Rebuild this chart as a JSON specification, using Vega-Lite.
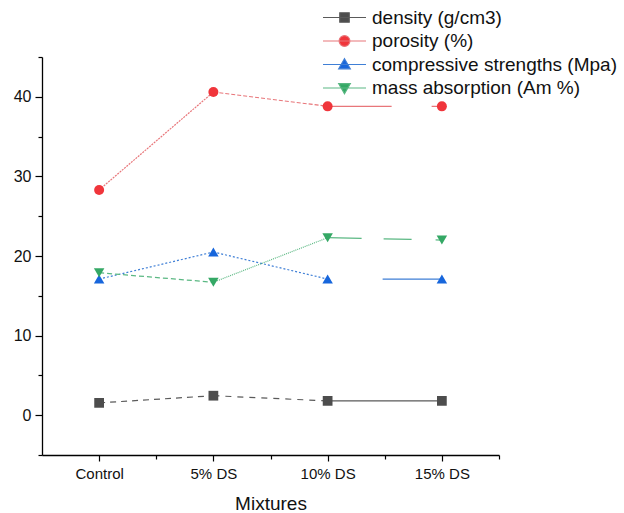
{
  "$schema": "https://vega.github.io/schema/vega-lite/v6.json",
  "width": 457,
  "height": 398,
  "autosize": {"type": "none"},
  "padding": {"left": 42, "top": 57, "right": 125, "bottom": 58},
  "background": "white",
  "config": {
    "view": {"stroke": null},
    "font": "Liberation Sans"
  },
  "data": {
    "values": [
      {"series": "density (g/cm3)", "mixture": "Control", "i": 0, "v": 1.55},
      {"series": "density (g/cm3)", "mixture": "5% DS", "i": 1, "v": 2.45},
      {"series": "density (g/cm3)", "mixture": "10% DS", "i": 2, "v": 1.8},
      {"series": "density (g/cm3)", "mixture": "15% DS", "i": 3, "v": 1.8},
      {"series": "porosity (%)", "mixture": "Control", "i": 0, "v": 28.3},
      {"series": "porosity (%)", "mixture": "5% DS", "i": 1, "v": 40.6},
      {"series": "porosity (%)", "mixture": "10% DS", "i": 2, "v": 38.8},
      {"series": "porosity (%)", "mixture": "15% DS", "i": 3, "v": 38.8},
      {"series": "compressive strengths  (Mpa)", "mixture": "Control", "i": 0, "v": 17.1},
      {"series": "compressive strengths  (Mpa)", "mixture": "5% DS", "i": 1, "v": 20.5},
      {"series": "compressive strengths  (Mpa)", "mixture": "10% DS", "i": 2, "v": 17.1},
      {"series": "compressive strengths  (Mpa)", "mixture": "15% DS", "i": 3, "v": 17.1},
      {"series": "mass absorption (Am %)", "mixture": "Control", "i": 0, "v": 17.9},
      {"series": "mass absorption (Am %)", "mixture": "5% DS", "i": 1, "v": 16.7},
      {"series": "mass absorption (Am %)", "mixture": "10% DS", "i": 2, "v": 22.3},
      {"series": "mass absorption (Am %)", "mixture": "15% DS", "i": 3, "v": 22.0}
    ]
  },
  "resolve": {"axis": {"x": "independent", "y": "independent"}},
  "layer": [
    {
      "transform": [
        {"window": [{"op": "lead", "field": "v", "as": "v2"}, {"op": "lead", "field": "i", "as": "i2"}], "groupby": ["series"], "sort": [{"field": "i"}]},
        {"filter": "datum.i2 != null"},
        {"calculate": "datum.series + '|' + datum.i", "as": "seg"}
      ],
      "mark": {"type": "rule", "strokeWidth": 1.2},
      "encoding": {
        "x": {
          "field": "i", "type": "quantitative",
          "scale": {"domain": [-0.5, 3.5], "nice": false, "zero": false},
          "axis": {
            "orient": "bottom",
            "values": [0, 1, 2, 3],
            "labelExpr": "['Control', '5% DS', '10% DS', '15% DS'][datum.value]",
            "tickSize": 6,
            "grid": false,
            "domainColor": "#000000",
            "domainWidth": 1.3,
            "tickColor": "#000000",
            "tickWidth": 1.2,
            "labelFontSize": 15,
            "labelColor": "#111111",
            "labelPadding": 5,
            "labelFlush": false,
            "labelOverlap": false,
            "title": "Mixtures",
            "titleFontSize": 19,
            "titleFontWeight": "normal",
            "titleColor": "#111111",
            "titlePadding": 13
          }
        },
        "x2": {"field": "i2"},
        "y": {
          "field": "v", "type": "quantitative",
          "scale": {"domain": [-5, 45], "nice": false, "zero": false},
          "axis": {
            "orient": "left",
            "values": [0, 10, 20, 30, 40],
            "tickSize": 7,
            "grid": false,
            "domainColor": "#000000",
            "domainWidth": 1.3,
            "tickColor": "#000000",
            "tickWidth": 1.2,
            "labelFontSize": 16,
            "labelColor": "#111111",
            "labelPadding": 4,
            "labelOverlap": false,
            "title": null
          }
        },
        "y2": {"field": "v2"},
        "stroke": {
          "field": "series", "type": "nominal",
          "scale": {
            "domain": ["density (g/cm3)", "porosity (%)", "compressive strengths  (Mpa)", "mass absorption (Am %)"],
            "range": ["#5a5a5a", "#e8767a", "#3f7fd6", "#5bb883"]
          },
          "legend": {"title": null}
        },
        "strokeDash": {
          "field": "seg", "type": "nominal",
          "scale": {
            "domain": [
              "density (g/cm3)|0", "density (g/cm3)|1", "density (g/cm3)|2",
              "porosity (%)|0", "porosity (%)|1", "porosity (%)|2",
              "compressive strengths  (Mpa)|0", "compressive strengths  (Mpa)|1", "compressive strengths  (Mpa)|2",
              "mass absorption (Am %)|0", "mass absorption (Am %)|1", "mass absorption (Am %)|2"
            ],
            "range": [
              [6, 5], [6, 6], [1, 0],
              [2, 1], [4, 2], [64, 40],
              [2, 2], [2, 2], [0, 55, 60, 0],
              [5, 3], [1, 1], [34, 22, 28, 24]
            ]
          },
          "legend": null
        }
      }
    },
    {
      "transform": [{"filter": "datum.series === 'density (g/cm3)'"}],
      "mark": {"type": "point", "shape": "square", "filled": true, "opacity": 1, "size": 95, "color": "#4d4d4d"},
      "encoding": {
        "x": {
          "field": "i", "type": "quantitative",
          "axis": {
            "orient": "bottom",
            "values": [0.5, 1.5, 2.5, 3.5],
            "tickSize": 4,
            "tickColor": "#000000",
            "tickWidth": 1.2,
            "labels": false,
            "domain": false,
            "grid": false,
            "title": null
          }
        },
        "y": {
          "field": "v", "type": "quantitative",
          "axis": {
            "orient": "left",
            "values": [-5, 5, 15, 25, 35, 45],
            "tickSize": 4,
            "tickColor": "#000000",
            "tickWidth": 1.2,
            "labels": false,
            "domain": false,
            "grid": false,
            "title": null
          }
        }
      }
    },
    {
      "transform": [{"filter": "datum.series === 'porosity (%)'"}],
      "mark": {"type": "point", "shape": "circle", "filled": true, "opacity": 1, "size": 100, "color": "#f0353b"},
      "encoding": {"x": {"field": "i", "type": "quantitative", "axis": null}, "y": {"field": "v", "type": "quantitative", "axis": null}}
    },
    {
      "transform": [{"filter": "datum.series === 'compressive strengths  (Mpa)'"}],
      "mark": {"type": "point", "shape": "triangle-up", "filled": true, "opacity": 1, "size": 110, "color": "#1766dc"},
      "encoding": {"x": {"field": "i", "type": "quantitative", "axis": null}, "y": {"field": "v", "type": "quantitative", "axis": null}}
    },
    {
      "transform": [{"filter": "datum.series === 'mass absorption (Am %)'"}],
      "mark": {"type": "point", "shape": "triangle-down", "filled": true, "opacity": 1, "size": 110, "color": "#34a865"},
      "encoding": {"x": {"field": "i", "type": "quantitative", "axis": null}, "y": {"field": "v", "type": "quantitative", "axis": null}}
    },
    {
      "mark": {"type": "point", "filled": true, "opacity": 0},
      "encoding": {
        "x": {"field": "i", "type": "quantitative", "axis": null},
        "y": {"field": "v", "type": "quantitative", "axis": null},
        "fill": {
          "field": "series", "type": "nominal",
          "scale": {
            "domain": ["density (g/cm3)", "porosity (%)", "compressive strengths  (Mpa)", "mass absorption (Am %)"],
            "range": ["#4d4d4d", "#f0353b", "#1766dc", "#34a865"]
          },
          "legend": {
            "title": null,
            "orient": "none",
            "legendX": 280,
            "legendY": -51,
            "padding": 0,
            "labelFont": "Liberation Sans",
            "labelFontSize": 19,
            "labelColor": "#111111",
            "labelLimit": 400,
            "labelOffset": 5,
            "symbolSize": 1849,
            "symbolStrokeWidth": 1.2,
            "symbolOpacity": 1,
            "clipHeight": 23,
            "rowPadding": 0.5,
            "encode": {
              "symbols": {
                "update": {
                  "fill": {"scale": "fill", "field": "value"},
                  "fillOpacity": {"value": 1},
                  "opacity": {"value": 1}
                }
              }
            }
          }
        },
        "stroke": {"field": "series", "type": "nominal", "legend": {"title": null}},
        "shape": {
          "field": "series", "type": "nominal",
          "scale": {
            "domain": ["density (g/cm3)", "porosity (%)", "compressive strengths  (Mpa)", "mass absorption (Am %)"],
            "range": [
              "M-1,0H1M-0.22,-0.22H0.22V0.22H-0.22Z",
              "M-1,0H1M0.25,0A0.25,0.25,0,1,1,-0.25,0A0.25,0.25,0,1,1,0.25,0Z",
              "M-1,0H1M0,-0.27L0.27,0.2H-0.27Z",
              "M-1,0H1M0,0.27L0.27,-0.2H-0.27Z"
            ]
          },
          "legend": {"title": null}
        }
      }
    }
  ]
}
